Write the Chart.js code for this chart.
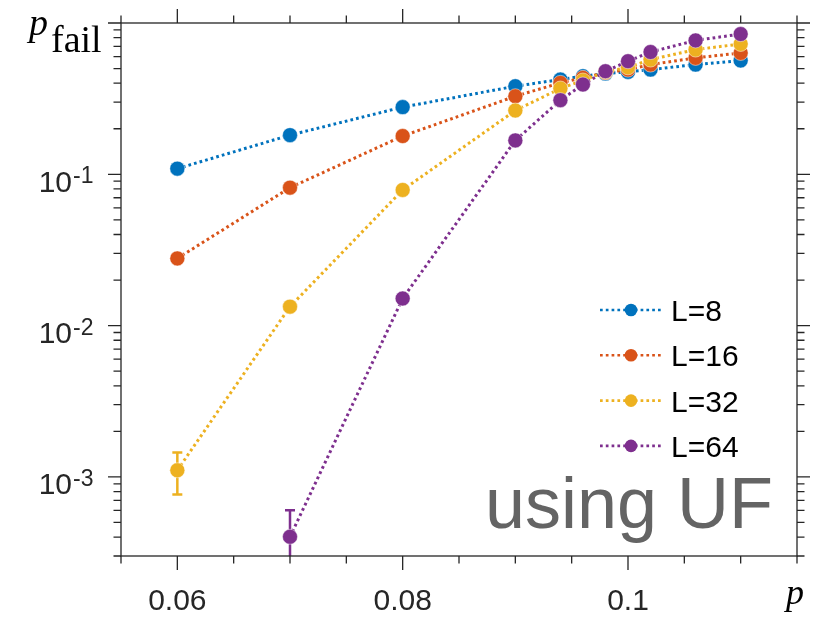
<!DOCTYPE html>
<html>
<head>
<meta charset="utf-8">
<script src="https://cdn.jsdelivr.net/npm/chart.js@4.4.0/dist/chart.umd.min.js"></script>
<style>
body { margin: 0; background: #fff; }
</style>
</head>
<body>
<canvas id="grafica" width="829" height="619"></canvas>
<script>
// data
const pValues = [0.06, 0.07, 0.08, 0.09, 0.094, 0.096, 0.098, 0.1, 0.102, 0.106, 0.11];
const failL8  = [0.109, 0.1815, 0.278, 0.382, 0.423, 0.445, 0.463, 0.475, 0.492, 0.531, 0.565];
const failL16 = [0.0278, 0.0816, 0.179, 0.328, 0.402, 0.434, 0.47, 0.492, 0.531, 0.588, 0.634];
const failL32 = [0.001106, 0.01334, 0.0788, 0.264, 0.369, 0.417, 0.475, 0.509, 0.573, 0.667, 0.727];
const failL64 = [null, 0.000402, 0.0151, 0.1675, 0.309, 0.392, 0.48, 0.559, 0.643, 0.767, 0.845];

// error bars (only the visible ones)
const lowL32  = [0.000764, null, null, null, null, null, null, null, null, null, null];
const highL32 = [0.00145, null, null, null, null, null, null, null, null, null, null];
const lowL64  = [null, 0.0002, null, null, null, null, null, null, null, null, null];
const highL64 = [null, 0.000603, null, null, null, null, null, null, null, null, null];

const seriesLabels = ['L=8', 'L=16', 'L=32', 'L=64'];
const seriesColors = ['#0072BD', '#D95319', '#EDB120', '#7E2F8E'];

const xMajorTicks = [0.06, 0.08, 0.1];
const xTickLabels = ['0.06', '0.08', '0.1'];
const xMinorTicks = [0.055, 0.065, 0.07, 0.075, 0.085, 0.09, 0.095, 0.105, 0.11, 0.115];
const yMajorTicks = [1e-3, 1e-2, 1e-1, 1];
const yTickExponents = ['-3', '-2', '-1', '0'];

const allSeries = [failL8, failL16, failL32, failL64];
const lows = [null, null, lowL32, lowL64];
const highs = [null, null, highL32, highL64];

var yMinorTicks = [];
for (var d = -4; d <= 0; d++) {
  for (var m = 2; m <= 9; m++) {
    var v = m * Math.pow(10, d);
    if (v >= 3e-4 && v <= 1) yMinorTicks.push(v);
  }
}

const axisColor = '#262626';
const dash = [2.7, 3.1];

function puntos(serie) {
  return pValues.map(function (p, i) { return { x: p, y: serie[i] }; });
}

const ejes = {
  id: 'ejes',
  beforeDatasetsDraw(chart) {
    var ctx = chart.ctx, xs = chart.scales.x, ys = chart.scales.y, a = chart.chartArea;
    ctx.save();
    ctx.beginPath();
    ctx.rect(a.left, a.top, a.right - a.left, a.bottom - a.top);
    ctx.clip();
    for (var s = 0; s < allSeries.length; s++) {
      if (!lows[s]) continue;
      ctx.strokeStyle = seriesColors[s];
      ctx.lineWidth = 2.5;
      for (var i = 0; i < pValues.length; i++) {
        if (lows[s][i] == null) continue;
        var x = xs.getPixelForValue(pValues[i]);
        var y1 = ys.getPixelForValue(lows[s][i]);
        var y2 = ys.getPixelForValue(highs[s][i]);
        ctx.beginPath();
        ctx.moveTo(x, y1); ctx.lineTo(x, y2);
        ctx.moveTo(x - 5, y1); ctx.lineTo(x + 5, y1);
        ctx.moveTo(x - 5, y2); ctx.lineTo(x + 5, y2);
        ctx.stroke();
      }
    }
    ctx.restore();
  },
  afterDraw(chart) {
    var ctx = chart.ctx, xs = chart.scales.x, ys = chart.scales.y, a = chart.chartArea;
    ctx.save();
    // box
    ctx.strokeStyle = axisColor;
    ctx.lineWidth = 1.3;
    ctx.strokeRect(a.left, a.top, a.right - a.left, a.bottom - a.top);

    function xTick(v, len) {
      var x = xs.getPixelForValue(v);
      ctx.beginPath();
      ctx.moveTo(x, a.bottom); ctx.lineTo(x, a.bottom + len);
      ctx.moveTo(x, a.top); ctx.lineTo(x, a.top - len);
      ctx.stroke();
    }
    function yTick(v, len) {
      var y = ys.getPixelForValue(v);
      ctx.beginPath();
      ctx.moveTo(a.left, y); ctx.lineTo(a.left - len, y);
      ctx.moveTo(a.right, y); ctx.lineTo(a.right + len, y);
      ctx.stroke();
    }
    xMajorTicks.forEach(function (v) { xTick(v, 14); });
    xMinorTicks.forEach(function (v) { xTick(v, 7.5); });
    yMajorTicks.forEach(function (v) { yTick(v, 13); });
    yMinorTicks.forEach(function (v) { yTick(v, 7.5); });

    // tick labels
    ctx.fillStyle = axisColor;
    ctx.font = '30px "Liberation Sans", Arial, sans-serif';
    ctx.textAlign = 'center';
    ctx.textBaseline = 'alphabetic';
    xMajorTicks.forEach(function (v, i) {
      ctx.fillText(xTickLabels[i], xs.getPixelForValue(v), 610);
    });
    yMajorTicks.forEach(function (v, i) {
      if (v >= 1) return;
      var y = ys.getPixelForValue(v);
      ctx.font = '30px "Liberation Sans", Arial, sans-serif';
      ctx.textAlign = 'right';
      ctx.fillText('10', 72, y + 17.5);
      ctx.font = '23px "Liberation Sans", Arial, sans-serif';
      ctx.textAlign = 'left';
      ctx.fillText(yTickExponents[i], 73, y + 9);
    });

    // axis labels
    ctx.fillStyle = '#000';
    ctx.textAlign = 'left';
    ctx.font = 'italic 38px "Liberation Serif", serif';
    ctx.fillText('p', 29, 35);
    ctx.font = '38px "Liberation Serif", serif';
    ctx.fillText('fail', 51, 52);
    ctx.font = 'italic 36px "Liberation Serif", serif';
    ctx.fillText('p', 786, 604);

    // legend
    for (var k = 0; k < seriesLabels.length; k++) {
      var ly = 310 + k * 45.3;
      ctx.strokeStyle = seriesColors[k];
      ctx.lineWidth = 2.6;
      ctx.setLineDash(dash);
      ctx.beginPath();
      ctx.moveTo(600, ly); ctx.lineTo(663, ly);
      ctx.stroke();
      ctx.setLineDash([]);
      ctx.fillStyle = seriesColors[k];
      ctx.beginPath();
      ctx.arc(631, ly, 6.3, 0, Math.PI * 2);
      ctx.fill();
      ctx.fillStyle = '#000';
      ctx.font = '30px "Liberation Sans", Arial, sans-serif';
      ctx.fillText(seriesLabels[k], 671, ly + 11);
    }

    // annotation
    ctx.fillStyle = '#646464';
    ctx.font = '72px "Liberation Sans", Arial, sans-serif';
    ctx.textAlign = 'right';
    ctx.fillText('using UF', 773, 528);
    ctx.restore();
  }
};

var graph = document.getElementById('grafica');
var lineChart = new Chart(graph, {
  type: 'line',
  data: {
    datasets: allSeries.map(function (serie, i) {
      return {
        label: seriesLabels[i],
        data: puntos(serie),
        borderColor: seriesColors[i],
        backgroundColor: seriesColors[i],
        borderWidth: 3,
        borderDash: dash,
        pointRadius: 7.5,
        pointBorderWidth: 0.8,
        pointBorderColor: 'rgba(255,255,255,0.6)',
        pointBackgroundColor: seriesColors[i],
        fill: false,
        tension: 0,
        order: 3 - i
      };
    })
  },
  options: {
    responsive: false,
    animation: false,
    devicePixelRatio: 1,
    layout: { padding: { left: 121, top: 23, right: 32, bottom: 63 } },
    scales: {
      x: { type: 'linear', display: false, min: 0.055, max: 0.115 },
      y: { type: 'logarithmic', display: false, min: 3e-4, max: 1 }
    },
    plugins: {
      legend: { display: false },
      tooltip: { enabled: false }
    }
  },
  plugins: [ejes]
});
</script>
</body>
</html>
